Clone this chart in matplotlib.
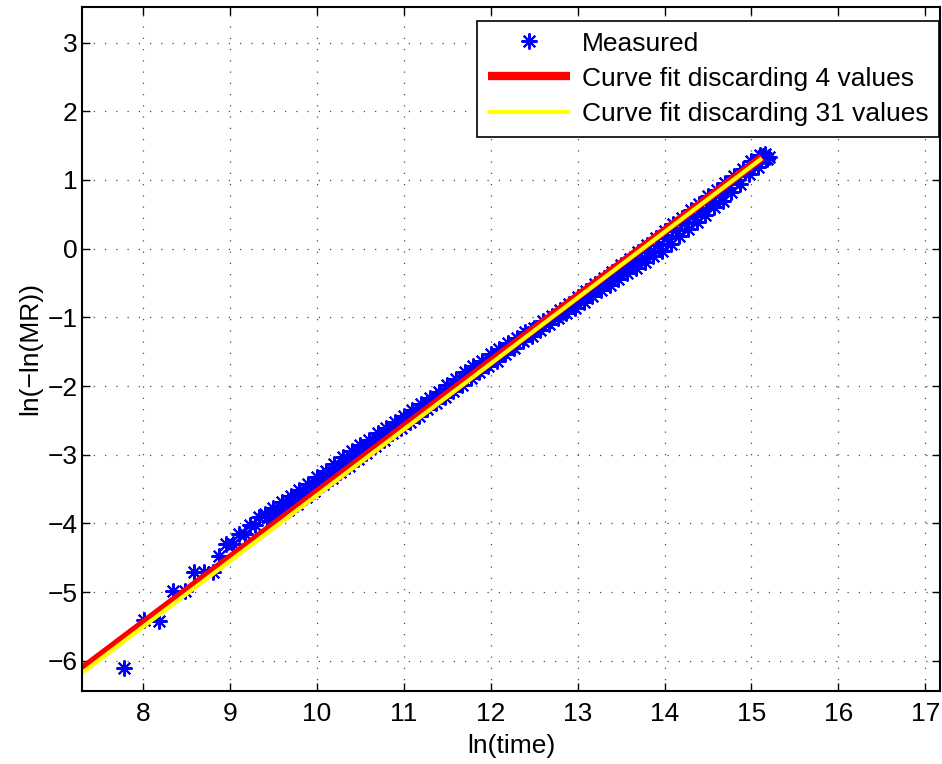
import matplotlib.pyplot as plt
import numpy as np

plt.rcParams['font.family'] = ['Liberation Sans', 'DejaVu Sans']
plt.rcParams['font.size'] = 19

# measured points, sparse early part
x_sparse = [7.78, 8.01, 8.19, 8.34, 8.48, 8.59, 8.70, 8.80, 8.88, 8.96,
            9.04, 9.10, 9.17, 9.23, 9.29, 9.34]
y_sparse = [-6.10, -5.40, -5.42, -4.99, -4.99, -4.71, -4.71, -4.70, -4.47, -4.30,
            -4.30, -4.16, -4.16, -4.02, -4.02, -3.90]

# measured points, dense part: upper edge, middle and lower edge of the scatter band
x_upper = [9.4, 9.5, 9.6, 9.7, 9.8, 9.9, 10.0, 10.1, 10.2, 10.3,
           10.4, 10.5, 10.6, 10.7, 10.8, 10.9, 11.0, 11.1, 11.2, 11.3,
           11.4, 11.5, 11.6, 11.7, 11.8, 11.9, 12.0, 12.1, 12.2, 12.3,
           12.4, 12.5, 12.6, 12.7, 12.8, 12.9, 13.0, 13.1, 13.2, 13.3,
           13.4, 13.5, 13.6, 13.7, 13.8, 13.9, 14.0, 14.1, 14.2, 14.3,
           14.4, 14.5, 14.6, 14.7, 14.8, 14.9, 15.0, 15.1]
y_upper = [-3.86, -3.78, -3.69, -3.60, -3.51, -3.42, -3.32, -3.23, -3.14, -3.04,
           -2.95, -2.86, -2.78, -2.69, -2.61, -2.53, -2.44, -2.35, -2.26, -2.17,
           -2.08, -1.99, -1.90, -1.80, -1.71, -1.63, -1.54, -1.46, -1.38, -1.30,
           -1.22, -1.15, -1.06, -0.98, -0.89, -0.80, -0.71, -0.62, -0.52, -0.43,
           -0.34, -0.24, -0.15, -0.05, 0.05, 0.15, 0.25, 0.36, 0.45, 0.56,
           0.65, 0.76, 0.86, 0.96, 1.06, 1.16, 1.27, 1.37]
x_mid = [9.43, 9.53, 9.63, 9.73, 9.83, 9.93, 10.03, 10.13, 10.23, 10.33,
         10.43, 10.53, 10.63, 10.73, 10.83, 10.93, 11.03, 11.13, 11.23, 11.33,
         11.43, 11.53, 11.63, 11.73, 11.83, 11.93, 12.03, 12.13, 12.23, 12.33,
         12.43, 12.53, 12.63, 12.73, 12.83, 12.93, 13.03, 13.13, 13.23, 13.33,
         13.43, 13.53, 13.63, 13.73, 13.83, 13.93, 14.03, 14.13, 14.23, 14.33,
         14.43, 14.53, 14.63, 14.73, 14.83, 14.93, 15.03, 15.13]
y_mid = [-3.91, -3.83, -3.75, -3.65, -3.57, -3.47, -3.38, -3.28, -3.20, -3.10,
         -3.01, -2.92, -2.83, -2.74, -2.65, -2.57, -2.48, -2.40, -2.31, -2.22,
         -2.13, -2.04, -1.94, -1.85, -1.76, -1.68, -1.59, -1.50, -1.42, -1.33,
         -1.24, -1.16, -1.08, -0.99, -0.92, -0.83, -0.74, -0.65, -0.56, -0.48,
         -0.39, -0.30, -0.22, -0.13, -0.03, 0.06, 0.16, 0.27, 0.37, 0.47,
         0.57, 0.68, 0.78, 0.89, 1.00, 1.12, 1.23, 1.35]
x_lower = [9.47, 9.57, 9.67, 9.77, 9.87, 9.97, 10.07, 10.17, 10.27, 10.37,
           10.47, 10.57, 10.67, 10.77, 10.87, 10.97, 11.07, 11.17, 11.27, 11.37,
           11.47, 11.57, 11.67, 11.77, 11.87, 11.97, 12.07, 12.17, 12.27, 12.37,
           12.47, 12.57, 12.67, 12.77, 12.87, 12.97, 13.07, 13.17, 13.27, 13.37,
           13.47, 13.57, 13.67, 13.77, 13.87, 13.97, 14.07, 14.17, 14.27, 14.37,
           14.47, 14.57, 14.67, 14.77, 14.87, 14.97, 15.07, 15.17]
y_lower = [-3.96, -3.88, -3.80, -3.71, -3.62, -3.53, -3.43, -3.34, -3.25, -3.16,
           -3.06, -2.97, -2.88, -2.79, -2.69, -2.61, -2.52, -2.43, -2.34, -2.25,
           -2.16, -2.07, -1.98, -1.88, -1.80, -1.71, -1.63, -1.53, -1.45, -1.35,
           -1.27, -1.18, -1.10, -1.01, -0.94, -0.86, -0.77, -0.69, -0.60, -0.53,
           -0.44, -0.36, -0.28, -0.20, -0.11, -0.03, 0.07, 0.18, 0.28, 0.39,
           0.49, 0.60, 0.70, 0.82, 0.94, 1.08, 1.19, 1.32]
x_end = [15.15, 15.18, 15.20]
y_end = [1.38, 1.30, 1.33]

# fitted lines (slope, intercept) and x range
fit4 = (0.953, -13.08)
fit31 = (0.958, -13.17)
fit_x = [7.0, 15.12]

x_meas = np.concatenate([x_sparse, x_upper, x_mid, x_lower, x_end])
y_meas = np.concatenate([y_sparse, y_upper, y_mid, y_lower, y_end])

fig = plt.figure(figsize=(9.42, 7.64), dpi=100)
ax = fig.add_axes([0.087, 0.0955, 0.911, 0.8955])

ax.plot(x_meas, y_meas, linestyle='none', marker=(8, 2, 0), markersize=11.5,
        markeredgewidth=1.5, color='#0000ff', label='Measured')
fx = np.array(fit_x)
ax.plot(fx, fit4[0] * fx + fit4[1], color='#ff0000', linewidth=6,
        solid_capstyle='butt', label='Curve fit discarding 4 values')
ax.plot(fx, fit31[0] * fx + fit31[1], color='#ffff00', linewidth=3,
        solid_capstyle='butt', label='Curve fit discarding 31 values')

ax.set_xlim(7.298, 17.17)
ax.set_ylim(-6.44, 3.52)
ax.set_xticks(range(8, 18))
ax.set_yticks(range(-6, 4))
ax.grid(True, color='0.3', linestyle=(0, (1, 8)), linewidth=0.9)
ax.tick_params(direction='in', length=6, width=1, top=True, right=True)
ax.tick_params(axis='x', pad=8)
ax.tick_params(axis='y', pad=3)
for s in ax.spines.values():
    s.set_linewidth(1.5)

ax.set_xlabel('ln(time)', labelpad=6)
ax.set_ylabel('ln(\u2212ln(MR))', labelpad=4)

leg = ax.legend(loc='upper right', bbox_to_anchor=(0.999, 0.98), borderaxespad=0,
                fancybox=False, framealpha=1, edgecolor='k', handlelength=3.1,
                handletextpad=0.45, labelspacing=0.42, borderpad=0.42)
leg.get_frame().set_linewidth(1.2)

plt.savefig('out.png', dpi=100)
